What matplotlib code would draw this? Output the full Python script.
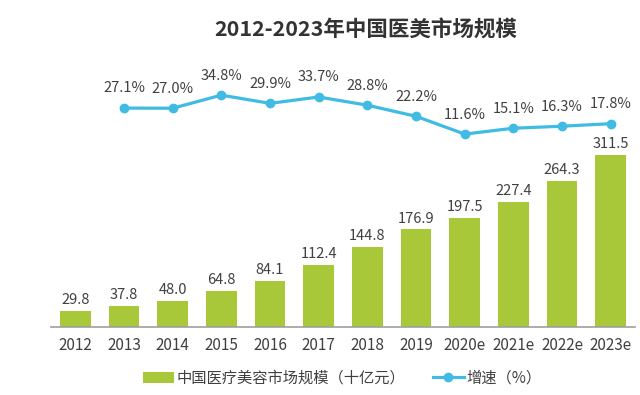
import matplotlib.pyplot as plt
import numpy as np

plt.rcParams['font.family'] = ['Noto Sans CJK SC', 'DejaVu Sans']

years = ['2012', '2013', '2014', '2015', '2016', '2017', '2018', '2019',
         '2020e', '2021e', '2022e', '2023e']
market = [29.8, 37.8, 48.0, 64.8, 84.1, 112.4, 144.8, 176.9, 197.5, 227.4, 264.3, 311.5]
growth_years = years[1:]
growth = [27.1, 27.0, 34.8, 29.9, 33.7, 28.8, 22.2, 11.6, 15.1, 16.3, 17.8]

green = '#a8c83a'
blue = '#3fbbe4'
text_c = '#404040'

fig = plt.figure(figsize=(6.4, 3.95), dpi=100)
ax = fig.add_axes([0.0797, 0.172, 0.9125, 0.7266])

x = np.arange(len(years))
ax.bar(x, market, width=0.63, color=green, label='中国医疗美容市场规模（十亿元）', zorder=2)
for xi, v in zip(x, market):
    ax.text(xi, v + 7, f'{v:.1f}', ha='center', va='bottom', fontsize=10.5, color=text_c)

ax.set_xlim(-0.5, 11.5)
ax.set_ylim(0, 520)
ax.set_xticks(x)
ax.set_xticklabels(years, fontsize=11, color=text_c)
ax.tick_params(axis='x', length=0, pad=7)
ax.set_yticks([])
for s in ['top', 'right', 'left']:
    ax.spines[s].set_visible(False)
ax.spines['bottom'].set_color('#a0a0a0')
ax.spines['bottom'].set_linewidth(1.2)

ax2 = ax.twinx()
gx = x[1:]
ax2.plot(gx, growth, color=blue, lw=2.3, marker='o', markersize=6,
         label='增速（%）', zorder=3)
for xi, v in zip(gx, growth):
    ax2.text(xi, v + 7.5, f'{v:.1f}%', ha='center', va='bottom', fontsize=10.5, color=text_c)
ax2.set_ylim(-103.3, 67.6)
ax2.set_yticks([])
for s in ['top', 'right', 'left', 'bottom']:
    ax2.spines[s].set_visible(False)

fig.text(0.572, 0.925, '2012-2023年中国医美市场规模', ha='center', va='center',
         fontsize=15.5, fontweight='bold', color='#333333')

h1, l1 = ax.get_legend_handles_labels()
h2, l2 = ax2.get_legend_handles_labels()
fig.legend(h1 + h2, l1 + l2, loc='center', bbox_to_anchor=(0.535, 0.043), ncol=2,
           frameon=False, fontsize=11, labelcolor=text_c, handlelength=2.0,
           handletextpad=0.2, columnspacing=1.8)

fig.savefig('out.png', dpi=100)
